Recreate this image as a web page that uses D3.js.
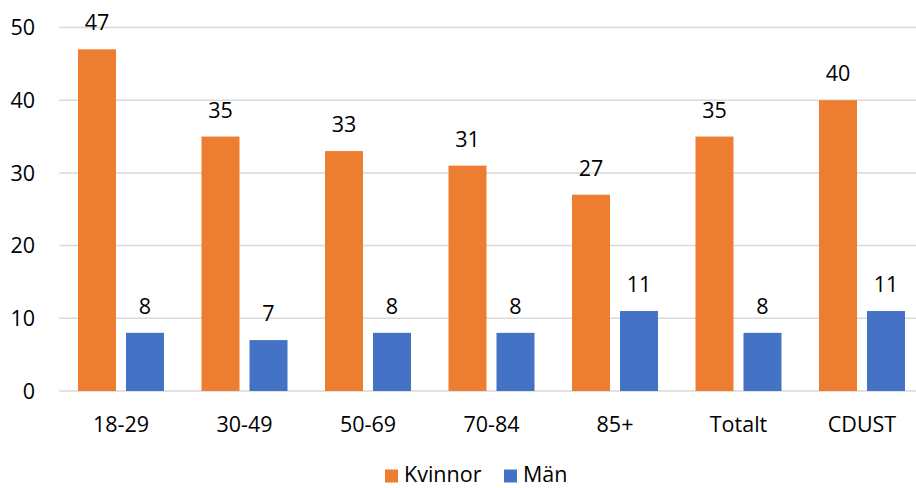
<!DOCTYPE html>
<html>
<head>
<meta charset="utf-8">
<script src="https://cdn.jsdelivr.net/npm/d3@7"></script>
<style>
  html, body { margin: 0; padding: 0; background: #fff; }
  svg { display: block; font-family: "Open Sans", "Liberation Sans", sans-serif; }
</style>
</head>
<body>
<svg id="chart" width="916" height="488"></svg>
<script>
// Age groups and share per sex
const categories = ["18-29", "30-49", "50-69", "70-84", "85+", "Totalt", "CDUST"];
const kvinnor = [47, 35, 33, 31, 27, 35, 40];
const man = [8, 7, 8, 8, 11, 8, 11];
const seriesNames = ["Kvinnor", "Män"];
const seriesColors = ["#ED7D31", "#4472C4"];
const yTicks = [0, 10, 20, 30, 40, 50];

const series = [kvinnor, man];
const svg = d3.select("#chart");
const fontSize = 21.5;

const plotLeft = 59.25, plotRight = 923.75;
const y = d3.scaleLinear().domain([0, 50]).range([391, 27.5]);
const x0 = d3.scaleBand().domain(categories).range([plotLeft, plotRight]).paddingInner(0).paddingOuter(0);
const step = x0.bandwidth();
const barW = 38, barGap = 10;
const groupW = barW * 2 + barGap;

// Horizontal gridlines
svg.append("g").selectAll("line").data(yTicks).join("line")
  .attr("x1", plotLeft).attr("x2", 916)
  .attr("y1", d => y(d)).attr("y2", d => y(d))
  .attr("stroke", "#d9d9d9").attr("stroke-width", 1.5);

// Y axis labels
svg.append("g").selectAll("text").data(yTicks).join("text")
  .attr("x", 35).attr("y", d => y(d)).attr("dy", "0.36em")
  .attr("text-anchor", "end").attr("font-size", fontSize).attr("fill", "#000")
  .text(d => d);

// Bars and value labels
series.forEach((vals, si) => {
  const g = svg.append("g");
  const xPos = (c) => x0(c) + (step - groupW) / 2 + si * (barW + barGap);
  g.selectAll("rect").data(categories).join("rect")
    .attr("x", c => xPos(c))
    .attr("y", (c, i) => y(vals[i]))
    .attr("width", barW)
    .attr("height", (c, i) => y(0) - y(vals[i]))
    .attr("fill", seriesColors[si]);
  g.selectAll("text").data(categories).join("text")
    .attr("x", c => xPos(c) + barW / 2)
    .attr("y", (c, i) => y(vals[i]) - 19)
    .attr("text-anchor", "middle").attr("font-size", fontSize).attr("fill", "#000")
    .text((c, i) => vals[i]);
});

// Category labels
svg.append("g").selectAll("text").data(categories).join("text")
  .attr("x", c => x0(c) + step / 2).attr("y", 432)
  .attr("text-anchor", "middle").attr("font-size", fontSize).attr("fill", "#000")
  .text(c => c);

// Legend
const legend = svg.append("g");
const legendX = [385, 504];
seriesNames.forEach((name, i) => {
  legend.append("rect").attr("x", legendX[i]).attr("y", 469.5).attr("width", 13).attr("height", 13)
    .attr("fill", seriesColors[i]);
  legend.append("text").attr("x", legendX[i] + 19).attr("y", 482)
    .attr("font-size", fontSize).attr("fill", "#000").text(name);
});
</script>
</body>
</html>
